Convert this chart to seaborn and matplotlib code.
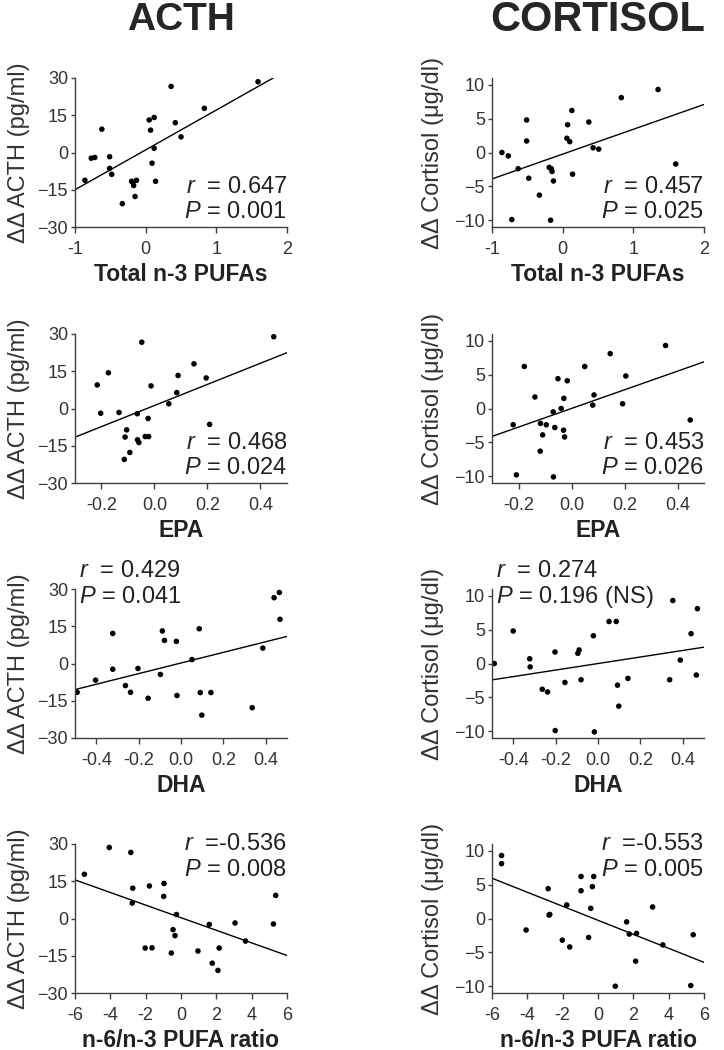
import matplotlib
matplotlib.use("Agg")
import matplotlib.pyplot as plt
import seaborn as sns
import pandas as pd

# ---- data ----
n3_acth_x = [-0.86, -0.77, -0.72, -0.62, -0.51, -0.51, -0.48, -0.33, -0.20, -0.18, -0.17, -0.13,
             -0.15, 0.05, 0.07, 0.12, 0.09, 0.12, 0.14, 0.36, 0.42, 0.50, 0.83, 1.59]
n3_acth_y = [-11.2, -2.3, -2.0, 9.4, -1.7, -6.4, -8.8, -20.6, -11.6, -12.0, -13.3, -11.2,
             -17.7, 13.1, 9.0, 14.1, -4.3, 1.7, -11.6, 26.6, 12.0, 6.3, 17.8, 28.5]

n3_cort_x = [-0.86, -0.77, -0.72, -0.63, -0.51, -0.51, -0.48, -0.33, -0.19, -0.16, -0.15, -0.17,
             -0.13, 0.06, 0.07, 0.10, 0.13, 0.14, 0.37, 0.43, 0.51, 0.83, 1.35, 1.60]
n3_cort_y = [0.0, -0.5, -9.9, -2.4, 4.8, 1.7, -3.8, -6.3, -2.2, -2.4, -2.8, -10.0,
             -4.2, 2.1, 4.1, 1.6, 6.2, -3.2, 4.5, 0.7, 0.5, 8.1, 9.3, -1.7]

epa_acth_x = [-0.216, -0.203, -0.174, -0.134, -0.105, -0.111, -0.114, -0.093, -0.065, -0.064, -0.059,
              -0.048, -0.035, -0.022, -0.024, -0.013, 0.054, 0.084, 0.089, 0.149, 0.195, 0.208, 0.45]
epa_acth_y = [9.5, -1.9, 14.4, -1.6, -8.6, -11.5, -20.5, -17.7, -2.1, -12.6, -13.7,
              26.7, -11.3, -11.3, -4.0, 9.1, 1.9, 6.4, 13.3, 18.0, 12.3, -6.4, 28.9]

epa_cort_x = [-0.22, -0.208, -0.178, -0.138, -0.117, -0.118, -0.109, -0.095, -0.069, -0.068, -0.063,
              -0.051, -0.039, -0.029, -0.030, -0.026, -0.016, 0.050, 0.080, 0.085, 0.146, 0.193,
              0.205, 0.355, 0.448]
epa_cort_y = [-2.4, -9.8, 6.2, 1.7, -2.2, -6.3, -3.9, -2.4, -0.5, -10.1, -2.8,
              4.4, 0.0, 1.5, -3.2, -4.2, 4.1, 6.2, 0.5, 2.0, 8.1, 0.7,
              4.8, 9.3, -1.7]

dha_acth_x = [-0.49, -0.403, -0.322, -0.322, -0.262, -0.238, -0.203, -0.155, -0.097, -0.088, -0.078,
              -0.022, -0.019, 0.052, 0.086, 0.091, 0.098, 0.141, 0.336, 0.386, 0.439, 0.464, 0.467]
dha_acth_y = [-11.6, -6.7, 12.1, -2.3, -8.9, -11.6, -2.0, -14.0, -4.4, 13.1, 9.3,
              8.9, -12.9, 1.6, 14.0, -11.7, -20.8, -11.7, -17.8, 6.2, 26.5, 28.6, 17.8]

dha_cort_x = [-0.489, -0.40, -0.322, -0.320, -0.263, -0.238, -0.203, -0.202, -0.156, -0.095, -0.089,
              -0.080, -0.022, -0.017, 0.052, 0.086, 0.092, 0.098, 0.141, 0.338, 0.353, 0.388,
              0.439, 0.469, 0.464]
dha_cort_y = [0.0, 4.8, 0.7, -0.5, -3.8, -4.2, 1.7, -9.9, -2.8, 1.5, 2.0,
              -2.4, 4.1, -10.1, 6.2, 6.2, -3.2, -6.3, -2.2, -2.4, 9.3, 0.5,
              4.4, 8.1, -1.7]

ratio_acth_x = [-5.47, -4.06, -2.84, -2.73, -2.76, -2.03, -1.64, -1.79, -0.96, -0.98, -0.55, -0.45,
                -0.34, -0.26, 0.96, 1.60, 1.77, 2.09, 2.16, 3.06, 3.65, 5.23, 5.36]
ratio_acth_y = [17.8, 28.6, 26.6, 12.2, 6.2, -11.9, -11.8, 13.1, 14.1, 8.9, -13.9, -4.5,
                -6.9, 1.6, -13.1, -2.4, -18.0, -20.9, -11.9, -1.8, -9.1, -2.2, 9.3]

ratio_cort_x = [-5.46, -5.46, -4.07, -2.82, -2.77, -2.73, -2.02, -1.77, -1.60, -0.96, -0.96, -0.53,
                -0.41, -0.32, -0.24, 0.98, 1.62, 1.77, 2.18, 2.13, 3.09, 3.67, 5.25, 5.39]
ratio_cort_y = [9.3, 8.1, -1.7, 4.4, 0.5, 0.6, -3.2, 2.0, -4.2, 6.2, 4.1, -2.8,
                1.5, 4.7, 6.2, -10.0, -0.5, -2.3, -2.2, -6.3, 1.7, -3.9, -9.9, -2.4]

x_labels = ["Total n-3 PUFAs", "EPA", "DHA", "n-6/n-3 PUFA ratio"]
col_titles = ["ACTH", "CORTISOL"]
y_labels = ["\u0394\u0394 ACTH (pg/ml)", "\u0394\u0394 Cortisol (\u03bcg/dl)"]
r_text = [["0.647", "0.457"], ["0.468", "0.453"], ["0.429", "0.274"], ["-0.536", "-0.553"]]
p_text = [["0.001", "0.025"], ["0.024", "0.026"], ["0.041", "0.196 (NS)"], ["0.008", "0.005"]]

panels = [
    [(n3_acth_x, n3_acth_y), (n3_cort_x, n3_cort_y)],
    [(epa_acth_x, epa_acth_y), (epa_cort_x, epa_cort_y)],
    [(dha_acth_x, dha_acth_y), (dha_cort_x, dha_cort_y)],
    [(ratio_acth_x, ratio_acth_y), (ratio_cort_x, ratio_cort_y)],
]

x_limits = [(-1, 2), (-0.3, 0.5), (-0.5, 0.5), (-6, 6)]
x_ticks = [[-1, 0, 1, 2], [-0.2, 0.0, 0.2, 0.4], [-0.4, -0.2, 0.0, 0.2, 0.4], [-6, -4, -2, 0, 2, 4, 6]]
x_fmt = ["{:.0f}", "{:.1f}", "{:.1f}", "{:.0f}"]
y_limits = [(-30, 30), (-11, 11)]
y_ticks = [[-30, -15, 0, 15, 30], [-10, -5, 0, 5, 10]]

sns.set_style("ticks")
plt.rcParams['font.family'] = ['Liberation Sans', 'DejaVu Sans']
plt.rcParams['mathtext.fontset'] = 'custom'
plt.rcParams['mathtext.rm'] = 'Liberation Sans'
plt.rcParams['mathtext.it'] = 'Liberation Sans:italic'

grey = '#404040'
fig = plt.figure(figsize=(7.24, 10.5), dpi=100)

lefts = [75 / 724, 492 / 724]
bottoms = [1 - 227 / 1050, 1 - 483 / 1050, 1 - 738 / 1050, 1 - 993 / 1050]
w = 212 / 724
h = 149 / 1050

for row in range(4):
    for col in range(2):
        ax = fig.add_axes([lefts[col], bottoms[row], w, h])
        xs, ys = panels[row][col]
        df = pd.DataFrame({'x': xs, 'y': ys})
        ax.set_xlim(*x_limits[row])
        sns.regplot(data=df, x='x', y='y', ax=ax, scatter=False, ci=None, truncate=False,
                    line_kws=dict(color='black', lw=1.0))
        sns.scatterplot(data=df, x='x', y='y', ax=ax, color='black', s=16, edgecolor='none')
        ax.set_xlim(*x_limits[row])
        ax.set_ylim(*y_limits[col])
        ax.set_xticks(x_ticks[row])
        ax.set_xticklabels([x_fmt[row].format(t) for t in x_ticks[row]])
        ax.set_yticks(y_ticks[col])
        sns.despine(ax=ax)
        for s in ['left', 'bottom']:
            ax.spines[s].set_color(grey)
            ax.spines[s].set_linewidth(1.0)
        ax.tick_params(colors=grey, labelcolor='#333333', labelsize=13, width=1)
        ax.tick_params(axis='x', length=4, pad=6)
        ax.tick_params(axis='y', length=3, pad=2)
        ax.set_xlabel(x_labels[row], fontsize=16.5, fontweight='bold', color='#222222')
        ax.set_ylabel(y_labels[col], fontsize=17, color='#333333')
        ax.xaxis.set_label_coords(0.5, -0.24)
        ax.yaxis.set_label_coords(-0.21 if col == 0 else -0.226, 0.5)

        rt = "$r$  =" + (" " if not r_text[row][col].startswith('-') else "") + r_text[row][col]
        pt = "$P$ = " + p_text[row][col]
        if row < 2:
            ax.text(1.0, 0.27, rt, transform=ax.transAxes, ha='right', va='center', fontsize=17, color='#222222')
            ax.text(1.0, 0.10, pt, transform=ax.transAxes, ha='right', va='center', fontsize=17, color='#222222')
        elif row == 2:
            ax.text(0.02, 1.12, rt, transform=ax.transAxes, ha='left', va='center', fontsize=17, color='#222222')
            ax.text(0.02, 0.945, pt, transform=ax.transAxes, ha='left', va='center', fontsize=17, color='#222222')
        else:
            ax.text(1.0, 1.0, rt, transform=ax.transAxes, ha='right', va='center', fontsize=17, color='#222222')
            ax.text(1.0, 0.825, pt, transform=ax.transAxes, ha='right', va='center', fontsize=17, color='#222222')

fig.text(181 / 724, 1 - 20 / 1050, col_titles[0], ha='center', va='center', fontsize=28, fontweight='bold')
fig.text(598 / 724, 1 - 20 / 1050, col_titles[1], ha='center', va='center', fontsize=30, fontweight='bold')

fig.savefig("out.png", dpi=100)
